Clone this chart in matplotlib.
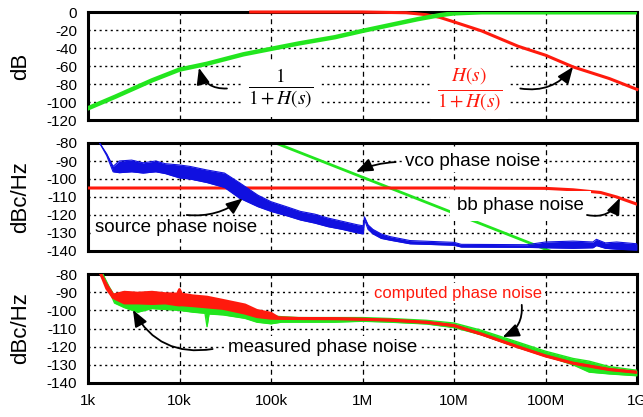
import matplotlib
matplotlib.use("Agg")
import matplotlib.pyplot as plt
from matplotlib.ticker import NullLocator

plt.rcParams["font.family"] = ["Liberation Sans", "DejaVu Sans"]
plt.rcParams["mathtext.fontset"] = "stix"

# --- x axis ---
xticks = [1e3, 1e4, 1e5, 1e6, 1e7, 1e8, 1e9]
xticklabels = ["1k", "10k", "100k", "1M", "10M", "100M", "1G"]

# --- top panel: transfer functions (dB) ---
f_err = [1e3, 2e3, 5e3, 1e4, 2e4, 5e4, 1e5, 2e5, 5e5, 1e6, 2e6, 4e6, 7e6, 1e7, 2e7, 1e9]
err_db = [-107, -94, -76, -64, -57.5, -47, -41, -35, -28, -21, -14.5, -8, -3.5, -1.5, -0.3, -0.3]

f_cl = [6e4, 1e6, 3e6, 5e6, 7e6, 1e7, 2e7, 5e7, 1e8, 2e8, 5e8, 1e9]
cl_db = [0, 0, -0.8, -3, -6, -11, -21, -38, -48, -61, -74, -86]

# --- middle panel: noise sources (dBc/Hz) ---
f_bb = [1e3, 1e7, 1e8, 2e8, 4e8, 6e8, 1e9]
bb_pn = [-105, -105, -105.2, -106, -107.5, -110, -114]

f_vco = [1e5, 1e6, 1e7, 1e8, 1e9]
vco_pn = [-79, -99, -119, -139, -159]

f_src = [1.34e3, 1.6e3, 1.88e3, 2.2e3, 3e3, 4e3, 5.5e3, 7e3, 1e4, 1.3e4,
         2e4, 3.1e4, 4.5e4, 7.2e4, 1e5, 1.5e5, 2.1e5, 3e5, 4.2e5, 6e5,
         8.9e5, 1.02e6, 1.05e6, 1.15e6, 1.3e6, 1.6e6, 2e6, 3.3e6, 1e7, 1.2e7,
         6.3e7, 1e8, 2e8, 3.3e8, 3.6e8, 4.5e8, 6e8, 1e9]
src_hi = [-80, -86, -93, -90, -89.5, -91, -90, -91.5, -92.2, -93,
          -95, -96.7, -102, -109, -112.6, -115.5, -118, -119.5, -121.7, -123.5,
          -125.5, -126, -121, -125.5, -128, -130.5, -132, -134.2, -135.2, -136.3,
          -136.5, -135, -134.5, -135, -133.5, -135.5, -135, -136]
src_lo = [-80, -87, -96, -96.5, -96, -96.7, -96, -97, -99.4, -100,
          -102, -104.7, -110.6, -115.4, -118, -120.5, -122.8, -124.5, -126.5, -128,
          -130, -130.5, -122.5, -128, -130.5, -133, -134, -136, -136.8, -137.8,
          -138, -138.2, -138.5, -138.2, -137, -138.5, -139, -139.5]

# --- bottom panel: measured vs computed (dBc/Hz) ---
f_meas = [1.45e3, 1.7e3, 1.95e3, 2.5e3, 3.5e3, 5e3, 7e3, 1e4, 1.4e4, 1.9e4,
          2e4, 2.1e4, 3e4, 5.2e4, 7e4, 1e5, 1.3e5, 2e5, 5e5, 1e6,
          2e6, 5e6, 1e7, 2e7, 5e7, 1e8, 2e8, 3e8, 5e8, 1e9]
meas_hi = [-80, -87, -92, -91, -91, -92, -92, -92, -93, -94,
           -94, -94, -96, -99, -102, -103, -103.5, -104, -104, -104,
           -104.5, -105.5, -107, -111, -117.5, -122.5, -126.5, -128, -131, -133]
meas_lo = [-80, -89, -96, -98.5, -101, -99, -99.5, -100, -101, -101.6,
           -109, -102, -102.5, -104.4, -106.5, -107.4, -106.5, -106.5, -106.5, -106,
           -106.5, -107.5, -109.5, -113.5, -120.5, -125, -130, -134, -135, -136]

f_comp = [1.38e3, 1.6e3, 1.88e3, 2.5e3, 3.5e3, 5e3, 7e3, 9.5e3, 1e4, 1.05e4,
          1.4e4, 2e4, 3e4, 5.2e4, 7e4, 1e5, 1.2e5, 2e5, 5e5, 1e6,
          2e6, 5e6, 1e7, 2e7, 5e7, 1e8, 2e8, 5e8, 1e9]
comp_hi = [-80, -86, -91.5, -90, -90.5, -90, -90.8, -91, -88.5, -91,
           -92, -92.7, -94.5, -97, -100, -101.6, -104, -104.4, -104.5, -104.8,
           -105.3, -106.5, -108.3, -113, -120, -125, -129, -132.5, -134]
comp_lo = [-80, -88, -93, -96, -96, -96.3, -96, -97, -97.1, -97,
           -97.5, -98.2, -99, -101.6, -103.5, -104.4, -104.5, -104.6, -104.7, -105,
           -105.5, -106.7, -108.5, -113.2, -120.2, -125.2, -129.2, -132.7, -134.2]

GREEN = "#22e61e"
RED = "#ff1a0d"
BLUE = "#1010e0"


def text_box(pad=2):
    return dict(facecolor="white", edgecolor="none", pad=pad)


def style_axis(ax, yticks, ylabel, show_x):
    ax.set_xscale("log")
    ax.set_xlim(1e3, 1e9)
    ax.set_ylim(yticks[-1], yticks[0])
    ax.set_xticks(xticks)
    ax.set_xticklabels(xticklabels if show_x else [])
    ax.xaxis.set_minor_locator(NullLocator())
    ax.set_yticks(yticks)
    ax.set_yticklabels([str(t) for t in yticks])
    ax.tick_params(length=0, labelsize=11, pad=8)
    for s in ax.spines.values():
        s.set_linewidth(2.2)
    ax.set_axisbelow(True)
    ax.grid(axis="x", color="black", linestyle=(0, (4, 3)), linewidth=0.9)
    ax.grid(axis="y", color="black", linestyle=(0, (1.5, 2.5)), linewidth=1.0)
    ax.set_ylabel(ylabel, fontsize=16)
    ax.yaxis.set_label_coords(-0.104, 0.5)


def band(ax, f, lo, hi, color, lw, z):
    # noisy measured trace drawn as its spread between lower / upper edge
    ax.fill_between(f, lo, hi, color=color, lw=0, zorder=z)
    ax.plot(f, hi, color=color, lw=lw, zorder=z)
    ax.plot(f, lo, color=color, lw=lw, zorder=z)


def arrow(ax, tail, head, rad):
    ax.annotate("", xy=head, xytext=tail, zorder=6,
                arrowprops=dict(arrowstyle="-|>,head_length=1.0,head_width=0.4",
                                color="black", lw=1.3, shrinkA=0, shrinkB=0,
                                connectionstyle=f"arc3,rad={rad}"))


fig = plt.figure(figsize=(6.43, 4.17), dpi=100)
ax_top = fig.add_axes([88 / 643, 1 - 120 / 417, 549 / 643, 108 / 417])
ax_mid = fig.add_axes([88 / 643, 1 - 251 / 417, 549 / 643, 108 / 417])
ax_bot = fig.add_axes([88 / 643, 1 - 383 / 417, 549 / 643, 109 / 417])

# top
style_axis(ax_top, [0, -20, -40, -60, -80, -100, -120], "dB", False)
ax_top.plot(f_cl, cl_db, color=RED, lw=2.2, zorder=3, clip_on=False)
ax_top.plot(f_err, err_db, color=GREEN, lw=3.2, zorder=4)
ax_top.text(1.28e5, -86, r"$\frac{1}{1+H(s)}$", fontsize=20, ha="center", va="center",
            bbox=text_box(4), zorder=5)
ax_top.text(1.48e7, -86, r"$\frac{H(s)}{1+H(s)}$", fontsize=20, ha="center", va="center",
            color=RED, bbox=text_box(4), zorder=5)
arrow(ax_top, (3.3e4, -85), (1.63e4, -62), -0.4)
arrow(ax_top, (5.3e7, -85), (2.0e8, -61), 0.3)

# middle
style_axis(ax_mid, [-80, -90, -100, -110, -120, -130, -140], "dBc/Hz", False)
ax_mid.plot(f_bb, bb_pn, color=RED, lw=2.2, zorder=3)
ax_mid.plot(f_vco, vco_pn, color=GREEN, lw=2.0, zorder=2.5)
band(ax_mid, f_src, src_lo, src_hi, BLUE, 0.8, 3.5)
ax_mid.text(2.9e6, -90, "vco phase noise", fontsize=13.5, ha="left", va="center",
            bbox=text_box(2), zorder=5)
ax_mid.text(1.08e7, -115, "bb phase noise", fontsize=13.5, ha="left", va="center",
            bbox=text_box(5), zorder=5)
ax_mid.text(1.19e3, -127.2, "source phase noise", fontsize=13.5, ha="left", va="center",
            bbox=text_box(2), zorder=5)
arrow(ax_mid, (2.3e6, -90.6), (8.5e5, -96.1), 0.1)
arrow(ax_mid, (2.84e8, -120), (6.5e8, -110.5), 0.4)
arrow(ax_mid, (1.2e4, -120), (4.9e4, -110.8), 0.2)

# bottom
style_axis(ax_bot, [-80, -90, -100, -110, -120, -130, -140], "dBc/Hz", True)
band(ax_bot, f_meas, meas_lo, meas_hi, GREEN, 1.0, 3)
band(ax_bot, f_comp, comp_lo, comp_hi, RED, 2.0, 4)
ax_bot.text(3.4e4, -120.2, "measured phase noise", fontsize=13.5, ha="left", va="center",
            bbox=text_box(2), zorder=5)
ax_bot.text(1.34e6, -90.5, "computed phase noise", fontsize=12, ha="left", va="center",
            color=RED, bbox=text_box(2), zorder=5)
arrow(ax_bot, (2.3e4, -121.3), (3.1e3, -99.8), -0.35)
arrow(ax_bot, (5.5e7, -97), (3.4e7, -114.7), -0.35)

fig.savefig("out.png", dpi=100)
